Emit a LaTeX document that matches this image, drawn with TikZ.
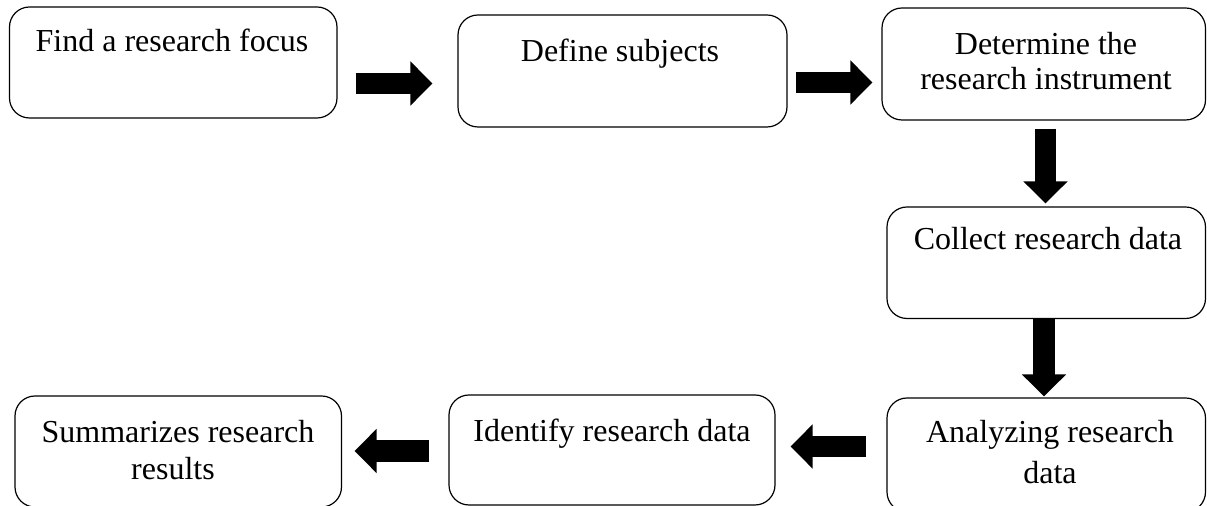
\documentclass[tikz,border=0pt]{standalone}
\usepackage{fontspec}
\setmainfont{Liberation Serif}
\usetikzlibrary{arrows.meta}
\begin{document}
\begin{tikzpicture}[x=0.5pt,y=-0.5pt,
  box/.style={draw=black, line width=0.6pt, rounded corners=10pt, inner sep=0pt},
  lbl/.style={inner sep=0pt, anchor=base, font=\fontsize{16}{17.5}\selectfont},
  blk/.style={draw=black, line width=10.5pt, -{Triangle[width=21.5pt,length=11pt]}}]
\useasboundingbox (0,0) rectangle (1207,506);
% boxes
\node[box, minimum width=163.75pt, minimum height=55.5pt] (b1) at (173.25,62.5) {};
\node[box, minimum width=164.5pt, minimum height=56pt] (b2) at (622.5,71) {};
\node[box, minimum width=161.75pt, minimum height=56pt] (b3) at (1043.75,64) {};
\node[box, minimum width=159.25pt, minimum height=55.75pt] (b4) at (1046.25,262.75) {};
\node[box, minimum width=159.25pt, minimum height=57pt] (b5) at (1046.25,455) {};
\node[box, minimum width=163pt, minimum height=55pt] (b6) at (612,450) {};
\node[box, minimum width=163.25pt, minimum height=55.5pt] (b7) at (178.25,451.5) {};
% texts
\node[lbl] (t1) at (172,52) {Find a research focus};
\node[lbl] (t2) at (620,62) {Define subjects};
\node[lbl] (t3a) at (1046,55) {Determine the};
\node[lbl] (t3b) at (1046,90) {research instrument};
\node[lbl] (t4) at (1048,250) {Collect research data};
\node[lbl] (t5a) at (1050,443) {Analyzing research};
\node[lbl] (t5b) at (1050,484) {data};
\node[lbl] (t6) at (612,442) {Identify research data};
\node[lbl] (t7a) at (178,443) {Summarizes research};
\node[lbl] (t7b) at (173,480) {results};
% block arrows
\draw[blk, shorten <=9pt, shorten >=12.5pt] (b1.east |- 0,83.5) -- (b2.west |- 0,83.5);
\draw[blk, shorten <=4pt, shorten >=4.5pt] (b2.east |- 0,82.5) -- (b3.west |- 0,82.5);
\draw[blk, shorten <=4pt, shorten >=1.5pt] (b3.south -| 1045.5,0) -- (b4.north -| 1045.5,0);
\draw[blk, line width=11pt, shorten <=0pt, shorten >=0.5pt] (b4.south -| 1044,0) -- (b5.north -| 1044,0);
\draw[blk, shorten <=10pt, shorten >=7.5pt] (b5.west |- 0,446.5) -- (b6.east |- 0,446.5);
\draw[blk, line width=11pt, shorten <=9.5pt, shorten >=6.25pt] (b6.west |- 0,451) -- (b7.east |- 0,451);
\end{tikzpicture}
\end{document}
